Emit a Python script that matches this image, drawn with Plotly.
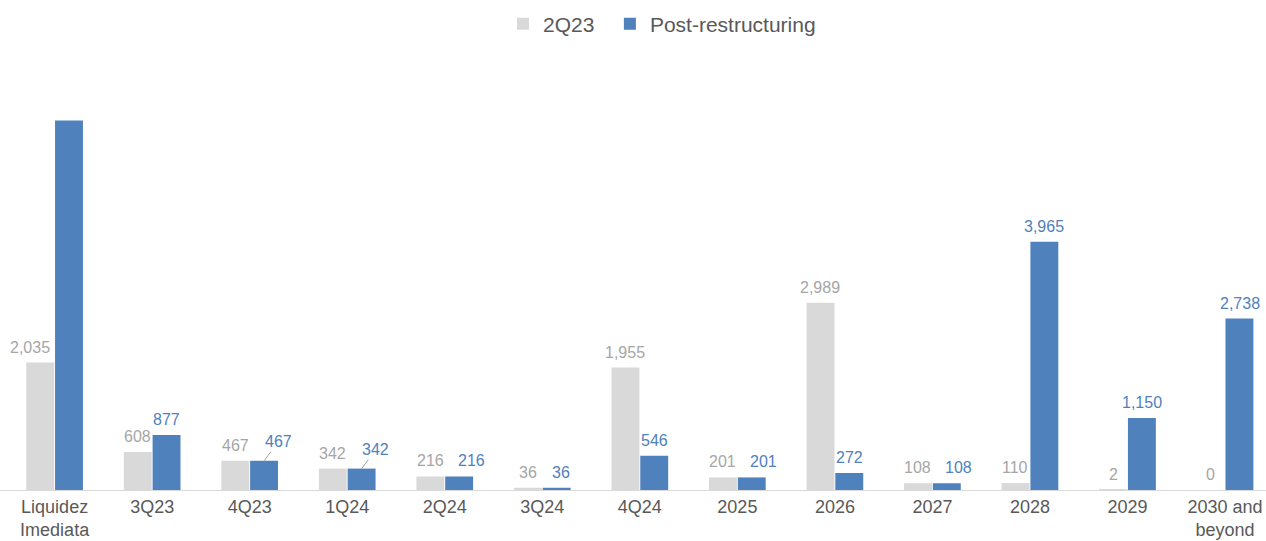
import plotly.graph_objects as go

categories = ["Liquidez<br>Imediata", "3Q23", "4Q23", "1Q24", "2Q24", "3Q24", "4Q24",
              "2025", "2026", "2027", "2028", "2029", "2030 and<br>beyond"]
q2_23 = [2035, 608, 467, 342, 216, 36, 1955, 201, 2989, 108, 110, 2, 0]
post = [5900, 877, 467, 342, 216, 36, 546, 201, 272, 108, 3965, 1150, 2738]
show_post_label = [False, True, True, True, True, True, True, True, True, True, True, True, True]
leader_label = [False, False, True, True, False, False, False, False, False, False, False, False, False]

GREY = "#d9d9d9"
GREY_TXT = "#a6a6a6"
BLUE = "#4f81bd"
FONT = "Liberation Sans, Arial, sans-serif"

fig = go.Figure()
# trailing en-space only widens the legend entry spacing
fig.add_trace(go.Bar(x=categories, y=q2_23, name="2Q23\u2002", marker_color=GREY,
                     marker_line_width=0))
fig.add_trace(go.Bar(x=categories, y=post, name="Post-restructuring", marker_color=BLUE,
                     marker_line_width=0))

ann = []
SH = 14.5
for i, v in enumerate(q2_23):
    txt = f"{v:,}"
    # wide label next to a taller neighbour bar is nudged left (as Excel does)
    dx = -10 if (post[i] > v and len(txt) >= 4) else 0
    ann.append(dict(x=i, y=v, xref="x", yref="y", text=txt, xshift=-SH + dx, yshift=5,
                    yanchor="bottom", showarrow=False,
                    font=dict(family=FONT, size=16, color=GREY_TXT)))
for i, (v, s, ld) in enumerate(zip(post, show_post_label, leader_label)):
    if not s:
        continue
    txt = f"{v:,}"
    if ld:
        ann.append(dict(x=i, y=v, xref="x", yref="y", text=txt, xshift=SH, showarrow=True,
                        ax=14, ay=-19, arrowhead=0, arrowwidth=1, arrowcolor="#a6a6a6",
                        standoff=0, font=dict(family=FONT, size=16, color=BLUE)))
    else:
        # Excel nudges labels right when both series share the same small value
        dx = (12 if len(txt) >= 3 else 4) if v == q2_23[i] else 0
        ann.append(dict(x=i, y=v, xref="x", yref="y", text=txt, xshift=SH + dx, yshift=5,
                        yanchor="bottom", showarrow=False,
                        font=dict(family=FONT, size=16, color=BLUE)))

fig.update_layout(
    width=1266, height=541,
    margin=dict(l=0, r=0, t=60, b=51, autoexpand=False),
    paper_bgcolor="white", plot_bgcolor="white",
    barmode="group", bargap=0.41, bargroupgap=0.03,
    font=dict(family=FONT, color="#595959"),
    legend=dict(orientation="h", x=503 / 1266, xanchor="left", y=1 - 24 / 541,
                yanchor="middle", yref="container",
                font=dict(family=FONT, size=21, color="#595959"),
                itemwidth=30, traceorder="normal"),
    annotations=ann,
    showlegend=True,
)
fig.update_xaxes(type="category", range=[-0.56, 12.42], showline=True, linecolor="#d9d9d9",
                 linewidth=1, ticks="", showgrid=False, ticklabelstandoff=0, automargin=False,
                 tickfont=dict(family=FONT, size=18, color="#595959"))
fig.update_yaxes(range=[0, 6868], showgrid=False, showticklabels=False, zeroline=False,
                 showline=False, automargin=False)

fig.write_html("out.html", config={"displayModeBar": False},
               post_script="document.body.style.margin='0';")
